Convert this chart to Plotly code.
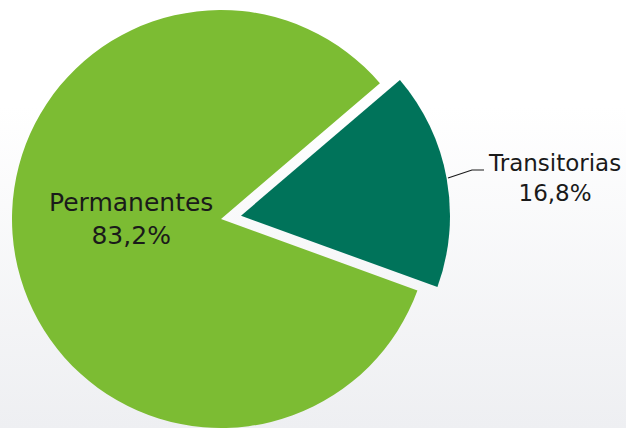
import plotly.graph_objects as go

# data
labels = ["Transitorias", "Permanentes"]
values = [16.8, 83.2]
pct_text = ["16,8%", "83,2%"]
colors = ["#00735a", "#7cbc33"]

W, H = 626, 428
R = 209
# pie centre (pixels) and offset of the pulled slice
cx, cy = 221, 219
dx, dy = 20, -3.3


def domain(cx, cy):
    return dict(x=[(cx - R) / W, (cx + R) / W], y=[1 - (cy + R) / H, 1 - (cy - R) / H])


fig = go.Figure()

# soft background
fig.add_trace(go.Scatter(
    x=[0, W, W, 0, 0], y=[0, 0, H, H, 0], mode="lines", fill="toself",
    line=dict(width=0), hoverinfo="skip", showlegend=False,
    fillgradient=dict(type="vertical", colorscale=[[0, "#eeeff2"], [0.75, "#ffffff"], [1, "#ffffff"]]),
))

# main pie (Permanentes)
fig.add_trace(go.Pie(
    labels=labels, values=values, sort=False, direction="clockwise", rotation=49.5,
    marker=dict(colors=["rgba(0,0,0,0)", colors[1]], line=dict(width=0)),
    textinfo="none", domain=domain(cx, cy), showlegend=False,
))
# pulled slice (Transitorias)
fig.add_trace(go.Pie(
    labels=labels, values=values, sort=False, direction="clockwise", rotation=49.5,
    marker=dict(colors=[colors[0], "rgba(0,0,0,0)"], line=dict(width=0)),
    textinfo="none", domain=domain(cx + dx, cy + dy), showlegend=False,
))

# labels
fig.add_annotation(x=131 / W, y=1 - 219 / H, xref="paper", yref="paper",
                   text=labels[1] + "<br>" + pct_text[1], showarrow=False,
                   xanchor="center", yanchor="middle",
                   font=dict(family="DejaVu Sans", size=25, color="#1a1a1a"))
fig.add_annotation(x=554 / W, y=1 - 178 / H, xref="paper", yref="paper",
                   text=labels[0] + "<br>" + pct_text[0], showarrow=False,
                   xanchor="center", yanchor="middle",
                   font=dict(family="DejaVu Sans", size=23, color="#1a1a1a"))

# leader line
fig.add_shape(type="path", path="M 448 178 L 472 170 L 484 170",
              xref="x", yref="y", line=dict(color="#1a1a1a", width=1.2))

fig.update_xaxes(range=[0, W], visible=False, fixedrange=True)
fig.update_yaxes(range=[H, 0], visible=False, fixedrange=True)
fig.update_layout(
    width=W, height=H, margin=dict(l=0, r=0, t=0, b=0),
    paper_bgcolor="white", plot_bgcolor="white",
)

fig.write_html("out.html", config={"displayModeBar": False},
               post_script="document.body.style.margin='0';")
